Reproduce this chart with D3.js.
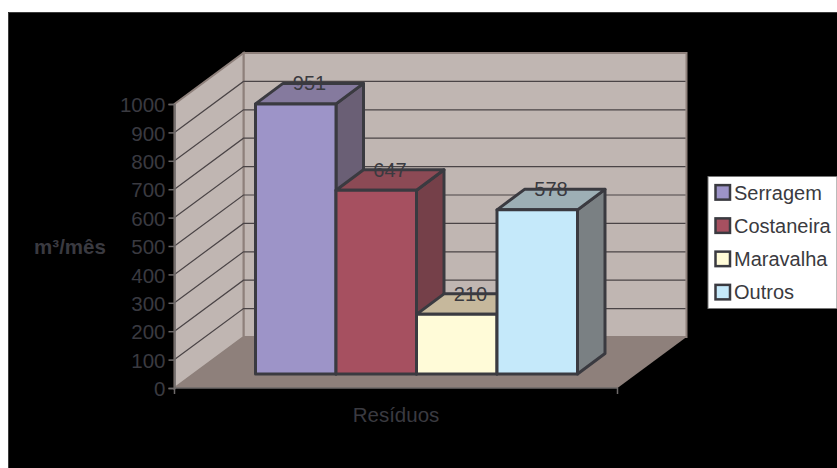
<!DOCTYPE html>
<html>
<head>
<meta charset="utf-8">
<script src="https://cdnjs.cloudflare.com/ajax/libs/d3/7.8.5/d3.min.js"></script>
<style>
html,body{margin:0;padding:0;background:#fff}
svg{display:block}
text{font-family:"Liberation Sans",Arial,sans-serif}
</style>
</head>
<body>
<svg id="chart" width="837" height="468"></svg>
<script>
// Waste volumes per month, one column per residue type
const categories = ["Serragem", "Costaneira", "Maravalha", "Outros"];
const values = [951, 647, 210, 578];
const frontColors = ["#9d94c8", "#a65060", "#fffbd8", "#c5e9fa"];
const topColors = ["#857a9e", "#8c4a55", "#c6b89c", "#9dafb5"];
const sideColors = ["#6a5f75", "#754049", "#9d9580", "#7a8083"];
const yTicks = [0, 100, 200, 300, 400, 500, 600, 700, 800, 900, 1000];
const yTitle = "m³/mês";
const xTitle = "Resíduos";

const svg = d3.select("#chart");
const ink = "#3a3a40";
const wall = "#c0b6b2";
const floor = "#8e807b";

// Plot box in oblique projection: front edge and receding depth
const frontLeft = 174.5, frontRight = 617.5, baseY = 388, topY = 104;
const depthX = 69, depthY = -51;
const y = d3.scaleLinear().domain([0, 1000]).range([baseY, topY]);
const barHeight = v => baseY - y(v);

svg.append("rect").attr("x", 8).attr("y", 12).attr("width", 829).attr("height", 456).attr("fill", "#000");
svg.append("path").attr("d", "M8.5,468V12.5H837").attr("fill", "none").attr("stroke", "#3c3c3c");

const poly = pts => "M" + pts.map(p => p.join(",")).join("L") + "Z";

// Back wall, side wall and floor
svg.append("path").attr("fill", wall).attr("stroke", floor).attr("stroke-width", 2)
  .attr("d", poly([[frontLeft + depthX, y(1000) + depthY], [frontRight + depthX, y(1000) + depthY],
                   [frontRight + depthX, baseY + depthY], [frontLeft + depthX, baseY + depthY]]));
svg.append("path").attr("fill", wall).attr("stroke", floor).attr("stroke-width", 2)
  .attr("d", poly([[frontLeft, y(1000)], [frontLeft + depthX, y(1000) + depthY],
                   [frontLeft + depthX, baseY + depthY], [frontLeft, baseY]]));
svg.append("path").attr("fill", floor)
  .attr("d", poly([[frontLeft, baseY], [frontLeft + depthX, baseY + depthY],
                   [frontRight + depthX, baseY + depthY], [frontRight, baseY]]));

// Gridlines run up the side wall and across the back wall
svg.append("g").selectAll("path").data(yTicks.filter(t => t > 0 && t < 1000)).join("path")
  .attr("fill", "none").attr("stroke", "#4a4446").attr("stroke-width", 1.2)
  .attr("d", t => `M${frontLeft},${y(t)}L${frontLeft + depthX},${y(t) + depthY}L${frontRight + depthX - 1},${y(t) + depthY}`);

// Value axis
const axis = svg.append("g").attr("transform", `translate(${frontLeft},0)`)
  .call(d3.axisLeft(y).tickValues(yTicks).tickFormat(d3.format("d")).tickSize(6).tickPadding(3));
axis.selectAll("path,line").attr("stroke", "#6e6a6a").attr("stroke-width", 1.5);
axis.selectAll("text").attr("fill", ink).attr("font-size", 20.5).attr("dy", "0.38em")
  .attr("font-family", '"Liberation Sans",Arial,sans-serif');
svg.append("path").attr("stroke", "#6e6a6a").attr("stroke-width", 1.5).attr("fill", "none")
  .attr("d", `M${frontLeft},${baseY}H${frontRight}M${frontLeft},${baseY}v6M${frontRight},${baseY}v6`);

// Columns: each one is a front face, top face and side face
const x = d3.scaleBand().domain(categories).range([255.5, 577.5]);
const barDX = 27.5, barDY = -20.5, barBase = 374;
const barY = v => barBase - barHeight(v);
const bars = svg.append("g").attr("stroke", ink).attr("stroke-width", 3).attr("stroke-linejoin", "round");

categories.forEach((c, i) => {
  const x0 = x(c), x1 = x0 + x.bandwidth(), t = barY(values[i]);
  const g = bars.append("g");
  g.append("path").attr("fill", sideColors[i])
    .attr("d", poly([[x1, t], [x1 + barDX, t + barDY], [x1 + barDX, barBase + barDY], [x1, barBase]]));
  g.append("path").attr("fill", topColors[i])
    .attr("d", poly([[x0, t], [x0 + barDX, t + barDY], [x1 + barDX, t + barDY], [x1, t]]));
  g.append("path").attr("fill", frontColors[i])
    .attr("d", poly([[x0, t], [x1, t], [x1, barBase], [x0, barBase]]));
});

// Value labels sit on the rear top edge of each column
svg.append("g").selectAll("text").data(categories).join("text")
  .attr("x", c => x(c) + x.bandwidth() / 2 + barDX / 2)
  .attr("y", (c, i) => barY(values[i]) + barDY + 7)
  .attr("text-anchor", "middle").attr("fill", ink).attr("font-size", 20)
  .text((c, i) => values[i]);

// Axis titles
svg.append("text").attr("x", 396).attr("y", 422).attr("text-anchor", "middle")
  .attr("fill", ink).attr("font-size", 20.5).text(xTitle);
svg.append("text").attr("x", 70).attr("y", 254).attr("text-anchor", "middle")
  .attr("fill", ink).attr("font-size", 20.5).attr("font-weight", "bold").text(yTitle);

// Legend
const legendRow = d3.scaleBand().domain(categories).range([176, 309]);
const legend = svg.append("g");
legend.append("rect").attr("x", 708).attr("y", 176.5).attr("width", 129).attr("height", 132)
  .attr("fill", "#fff").attr("stroke", "#777").attr("stroke-width", 1);
categories.forEach((c, i) => {
  const cy = legendRow(c) + legendRow.bandwidth() / 2;
  legend.append("rect").attr("x", 715.5).attr("y", cy - 7.5).attr("width", 14.5).attr("height", 14.5)
    .attr("fill", frontColors[i]).attr("stroke", ink).attr("stroke-width", 2.5);
  legend.append("text").attr("x", 734).attr("y", cy + 7).attr("fill", ink).attr("font-size", 20).text(c);
});
</script>
</body>
</html>
